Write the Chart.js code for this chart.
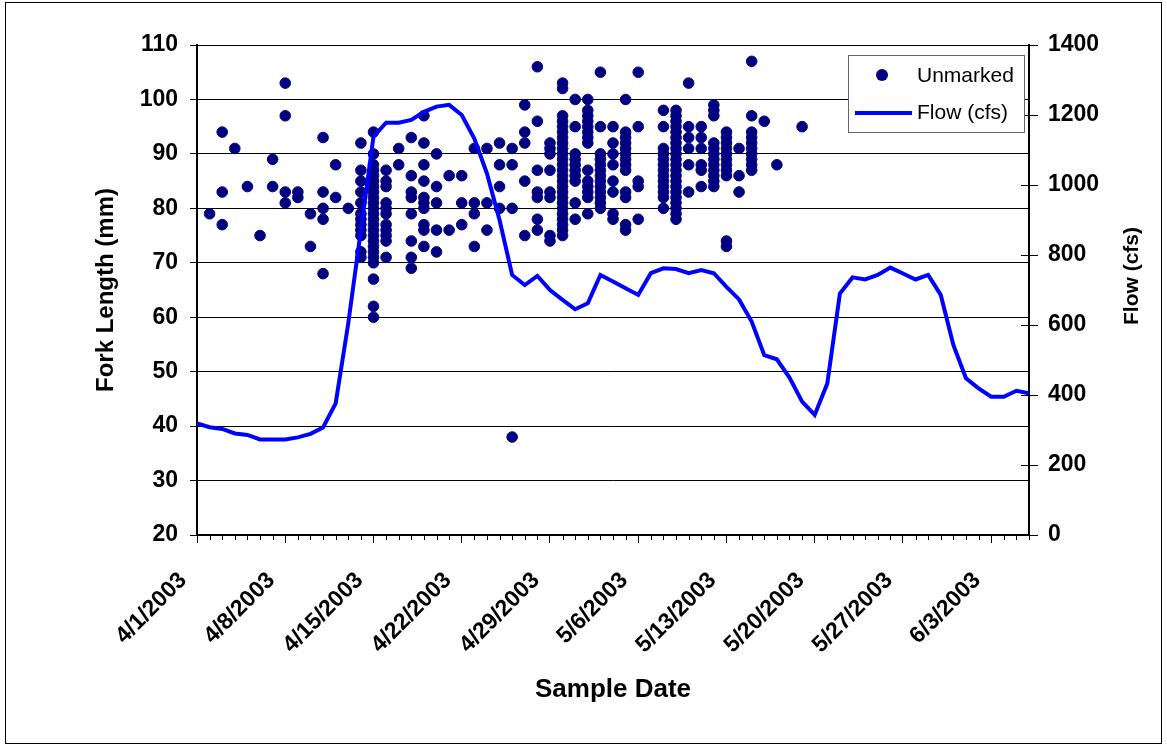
<!DOCTYPE html>
<html>
<head>
<meta charset="utf-8">
<title>Fork Length and Flow</title>
<script src="https://cdn.jsdelivr.net/npm/chart.js@4/dist/chart.umd.min.js"></script>
<style>
  html, body { margin: 0; padding: 0; background: #fff; }
  #wrap { position: relative; width: 1167px; height: 746px; }
</style>
</head>
<body>
<div id="wrap"><canvas id="chart" width="1167" height="746"></canvas></div>
<script>
// ----- Data -----
// x axis is days since 4/1/2003 (4/1 .. 6/6), labelled every 7 days
const dateLabels = ['4/1/2003', '4/8/2003', '4/15/2003', '4/22/2003', '4/29/2003',
                    '5/6/2003', '5/13/2003', '5/20/2003', '5/27/2003', '6/3/2003'];
const dayCount = 67;

// daily flow (cfs), one value per day starting 4/1
const flowCfs = [
  319, 308, 303, 290, 286, 273, 273, 273, 279, 289,
  307, 376, 605, 871, 1138, 1178, 1178, 1186, 1209, 1224,
  1229, 1200, 1133, 1033, 900, 743, 714, 740, 700, 672,
  645, 662, 743, 724, 705, 686, 748, 762, 760, 748,
  757, 748, 709, 673, 610, 514, 502, 450, 381, 343,
  433, 690, 736, 730, 743, 764, 747, 730, 743, 686,
  543, 448, 419, 395, 395, 412, 405
];

// unmarked fish: sample day (days since 4/1) and fork lengths (mm) measured that day
const sampleDays = [1, 2, 3, 4, 5, 6, 7, 8, 9, 10, 11, 12, 13, 14, 15, 16, 17, 18, 19, 20,
                    21, 22, 23, 24, 25, 26, 27, 28, 29, 30, 31, 32, 33, 34, 35, 37, 38, 39, 40, 41,
                    42, 43, 44, 45, 46, 48];
const forkLengths = [
  [79],
  [94, 83, 77],
  [91],
  [84],
  [75],
  [89, 84],
  [103, 97, 83, 81],
  [83, 82],
  [79, 73],
  [93, 83, 80, 78, 68],
  [88, 82],
  [80],
  [92, 87, 85, 83, 81, 79, 78, 77, 76, 75, 72, 71],
  [94, 90, 88, 87, 86, 85, 84, 83, 82, 81, 80, 79, 78, 77, 76, 75, 74, 73, 72, 71, 70, 67, 62, 60],
  [87, 85, 84, 81, 80, 79, 77, 76, 75, 74, 71],
  [91, 88],
  [93, 86, 83, 82, 79, 74, 71, 69],
  [97, 92, 88, 85, 82, 81, 80, 77, 76, 73],
  [90, 84, 81, 76, 72],
  [86, 76],
  [86, 81, 77],
  [91, 81, 79, 73],
  [91, 81, 76],
  [92, 88, 84, 80],
  [91, 88, 80, 38],
  [99, 94, 92, 85, 75],
  [106, 96, 87, 83, 82, 78, 76],
  [92, 91, 90, 87, 83, 82, 75, 74],
  [103, 102, 97, 96, 95, 94, 93, 92, 91, 90, 89, 88, 87, 86, 85, 84, 83, 82, 81, 80, 79, 78, 77, 76, 75],
  [100, 95, 90, 89, 88, 87, 86, 85, 81, 78],
  [100, 98, 97, 96, 95, 94, 93, 92, 87, 85, 84, 83, 82, 79],
  [105, 95, 90, 89, 88, 87, 86, 85, 84, 83, 82, 81, 80],
  [95, 92, 90, 88, 85, 83, 79, 78],
  [100, 94, 93, 92, 91, 90, 89, 88, 87, 83, 82, 77, 76],
  [105, 95, 85, 84, 78],
  [98, 95, 91, 90, 89, 88, 87, 86, 85, 84, 83, 82, 80],
  [98, 97, 96, 95, 94, 93, 92, 91, 90, 89, 88, 87, 86, 85, 84, 83, 82, 81, 80, 79, 78],
  [103, 95, 93, 91, 88, 83],
  [95, 93, 91, 88, 87, 84],
  [99, 98, 97, 92, 91, 90, 89, 88, 87, 86, 85, 84],
  [94, 93, 92, 91, 90, 89, 88, 87, 86, 74, 73],
  [91, 86, 83],
  [107, 97, 94, 93, 92, 91, 90, 89, 88, 87],
  [96],
  [88],
  [95]
];

// ----- Build datasets -----
const fishPoints = sampleDays.flatMap((day, i) => forkLengths[i].map(len => ({ x: day, y: len })));
const flowPoints = flowCfs.map((cfs, day) => ({ x: day, y: cfs }));

const FONT = "'Liberation Sans', Arial, sans-serif";
const NAVY = '#000080';
const BLUE = '#0000FF';

// ----- Extra drawing: minor ticks, right title, legend, frame -----
const extras = {
  id: 'extras',
  afterDraw(chart) {
    const { ctx, chartArea, scales } = chart;
    const x = scales.x, y1 = scales.y1;
    ctx.save();

    // minor day ticks on the date axis
    ctx.strokeStyle = '#000';
    ctx.lineWidth = 1;
    ctx.beginPath();
    x.ticks.forEach(t => {
      if (t.value % 7 === 0) return;
      const px = Math.round(x.getPixelForValue(t.value)) + 0.5;
      ctx.moveTo(px, chartArea.bottom);
      ctx.lineTo(px, chartArea.bottom + 5);
    });
    // inner half of the cross ticks on the flow axis
    y1.ticks.forEach(t => {
      const py = Math.round(y1.getPixelForValue(t.value)) + 0.5;
      ctx.moveTo(chartArea.right - 8, py);
      ctx.lineTo(chartArea.right, py);
    });
    ctx.stroke();

    // flow axis title, reading bottom to top
    ctx.fillStyle = '#000';
    ctx.font = 'bold 21px ' + FONT;
    ctx.textAlign = 'center';
    ctx.textBaseline = 'middle';
    ctx.translate(y1.right - 35, chartArea.top + 231);
    ctx.rotate(-Math.PI / 2);
    ctx.fillText(y1.options.title.text, 0, 0);
    ctx.setTransform(1, 0, 0, 1, 0, 0);

    // legend box in the top right of the plot
    const ds = chart.data.datasets;
    const bx = chartArea.right - 181, by = chartArea.top + 10, bw = 176, bh = 77;
    ctx.fillStyle = '#fff';
    ctx.fillRect(bx, by, bw, bh);
    ctx.strokeStyle = '#666';
    ctx.lineWidth = 1;
    ctx.strokeRect(bx + 0.5, by + 0.5, bw, bh);

    ctx.fillStyle = ds[0].backgroundColor;
    ctx.beginPath();
    ctx.arc(bx + 34, by + 20, 6, 0, Math.PI * 2);
    ctx.fill();

    ctx.strokeStyle = ds[1].borderColor;
    ctx.lineWidth = 4;
    ctx.beginPath();
    ctx.moveTo(bx + 7, by + 58);
    ctx.lineTo(bx + 64, by + 58);
    ctx.stroke();

    ctx.fillStyle = '#000';
    ctx.font = '21px ' + FONT;
    ctx.textAlign = 'left';
    ctx.textBaseline = 'middle';
    ctx.fillText(ds[0].label, bx + 69, by + 21);
    ctx.fillText(ds[1].label, bx + 69, by + 58);

    // outer frame
    ctx.strokeStyle = '#000';
    ctx.lineWidth = 1;
    ctx.strokeRect(5.5, 2.5, 1156, 741);
    ctx.restore();
  }
};

// ----- Chart -----
const ctx = document.getElementById('chart').getContext('2d');
const chart = new Chart(ctx, {
  type: 'scatter',
  data: {
    datasets: [
      {
        label: 'Unmarked',
        data: fishPoints,
        yAxisID: 'y',
        backgroundColor: NAVY,
        borderColor: NAVY,
        borderWidth: 1,
        pointRadius: 5.3,
        order: 1
      },
      {
        label: 'Flow (cfs)',
        data: flowPoints,
        yAxisID: 'y1',
        showLine: true,
        borderColor: BLUE,
        backgroundColor: BLUE,
        borderWidth: 4,
        pointRadius: 0,
        tension: 0,
        order: 0
      }
    ]
  },
  options: {
    responsive: false,
    animation: false,
    layout: { padding: { top: 45, left: 0, right: 0, bottom: 0 } },
    plugins: {
      legend: { display: false },
      tooltip: { enabled: false }
    },
    scales: {
      x: {
        type: 'linear',
        min: 0,
        max: dayCount - 1,
        afterFit: s => { s.height = 211; },
        ticks: {
          stepSize: 1,
          autoSkip: false,
          minRotation: 45,
          maxRotation: 45,
          padding: 24,
          labelOffset: -14,
          color: '#000',
          font: { family: FONT, size: 23, weight: 'bold' },
          callback: v => (v % 7 === 0 ? dateLabels[v / 7] : '')
        },
        grid: {
          drawOnChartArea: false,
          tickLength: 8,
          tickColor: c => (c.tick && c.tick.value % 7 === 0 ? '#000' : 'rgba(0,0,0,0)')
        },
        border: { color: '#000', width: 2 },
        title: {
          display: true,
          text: 'Sample Date',
          color: '#000',
          font: { family: FONT, size: 26, weight: 'bold' },
          padding: { top: 0, bottom: 41 }
        }
      },
      y: {
        position: 'left',
        min: 20,
        max: 110,
        afterFit: s => { s.width = 197; },
        ticks: {
          stepSize: 10,
          padding: 12,
          color: '#000',
          font: { family: FONT, size: 23, weight: 'bold' }
        },
        grid: { color: '#000', lineWidth: 1, tickLength: 7 },
        border: { color: '#000', width: 2 },
        title: {
          display: true,
          text: 'Fork Length (mm)',
          color: '#000',
          font: { family: FONT, size: 24, weight: 'bold' },
          padding: { top: 92, bottom: 0 }
        }
      },
      y1: {
        position: 'right',
        min: 0,
        max: 1400,
        afterFit: s => { s.width = 138; },
        ticks: {
          stepSize: 200,
          padding: 10,
          color: '#000',
          font: { family: FONT, size: 23, weight: 'bold' },
          callback: v => String(v)
        },
        grid: { drawOnChartArea: false, color: '#000', tickLength: 9 },
        border: { color: '#000', width: 2 },
        title: { display: false, text: 'Flow (cfs)' }
      }
    }
  },
  plugins: [extras]
});
</script>
</body>
</html>
